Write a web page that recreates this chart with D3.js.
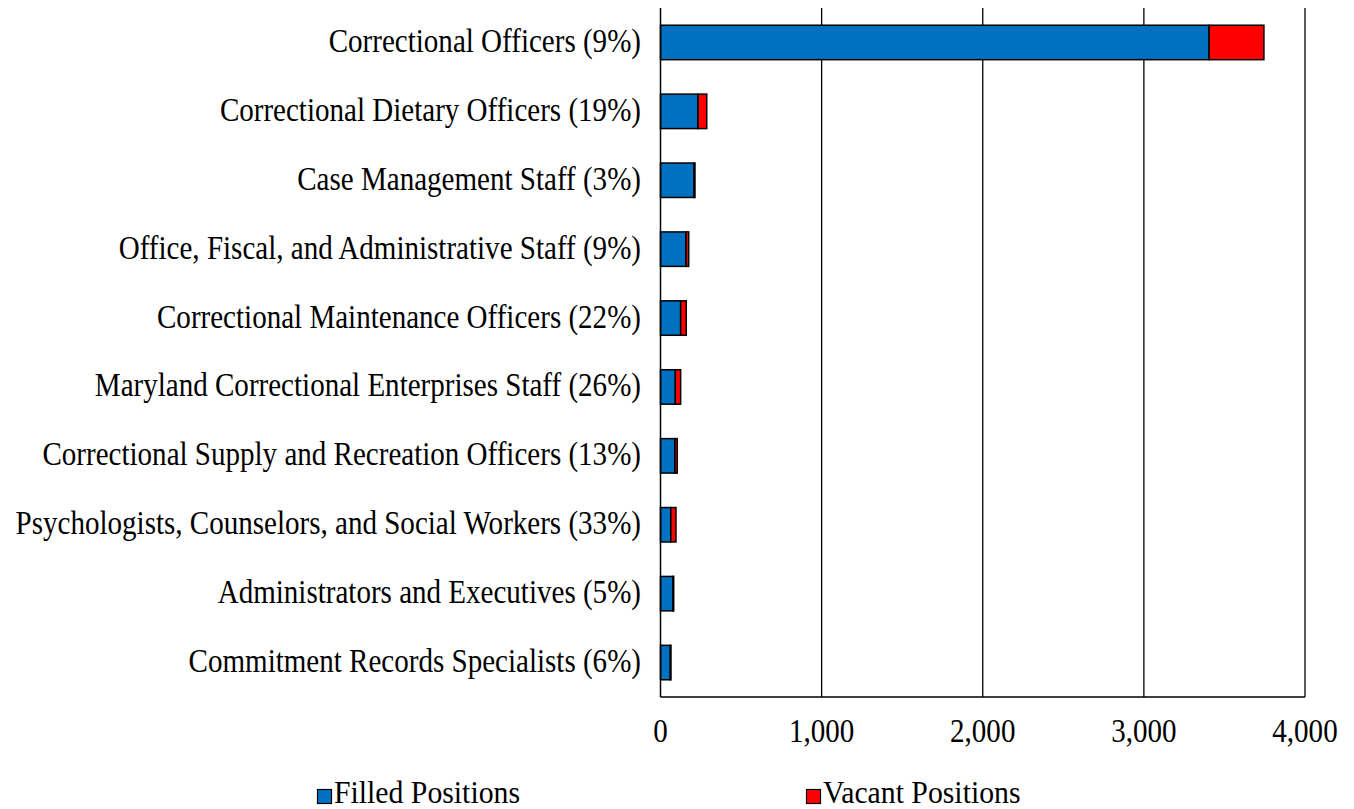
<!DOCTYPE html>
<html><head><meta charset="utf-8">
<script src="https://cdn.jsdelivr.net/npm/d3@7"></script>
<style>body{margin:0;background:#fff}svg{display:block}text{font-family:"Liberation Serif","Times New Roman",serif;fill:#000}</style>
</head><body><svg id="c" width="1354" height="809"></svg>
<script>
const categories = ["Correctional Officers (9%)","Correctional Dietary Officers (19%)","Case Management Staff (3%)","Office, Fiscal, and Administrative Staff (9%)","Correctional Maintenance Officers (22%)","Maryland Correctional Enterprises Staff (26%)","Correctional Supply and Recreation Officers (13%)","Psychologists, Counselors, and Social Workers (33%)","Administrators and Executives (5%)","Commitment Records Specialists (6%)"];
const filled = [3405,233,208,159,125,92,90,64,78,61];
const vacant = [340,54,6,16,35,33,14,32,4,4];
const seriesNames = ["Filled Positions","Vacant Positions"];
const colors = ["#0070C0","#FF0000"];
const xTicks = [0,1000,2000,3000,4000];

const svg = d3.select("#c");
const pL = 660.5, pR = 1305, pT = 8, pB = 697;
const FS = 33, SX = 0.88;
const x = d3.scaleLinear().domain([0,4000]).range([pL,pR]);
const y = d3.scaleBand().domain(categories).range([pT,pB]).paddingInner(0.5).paddingOuter(0.25);

// gridlines
svg.append("g").selectAll("line").data(xTicks.slice(1)).join("line")
  .attr("x1",d=>x(d)).attr("x2",d=>x(d)).attr("y1",pT).attr("y2",pB)
  .attr("stroke","#000").attr("stroke-width",1.3);

// bars
const data = categories.map((c,i)=>({c,f:filled[i],v:vacant[i]}));
const g = svg.append("g");
g.selectAll("rect.f").data(data).join("rect").attr("class","f")
  .attr("x",x(0)).attr("y",d=>y(d.c)).attr("width",d=>x(d.f)-x(0)).attr("height",y.bandwidth())
  .attr("fill",colors[0]).attr("stroke","#000").attr("stroke-width",1.5);
g.selectAll("rect.v").data(data).join("rect").attr("class","v")
  .attr("x",d=>x(d.f)).attr("y",d=>y(d.c)).attr("width",d=>x(d.f+d.v)-x(d.f)).attr("height",y.bandwidth())
  .attr("fill",colors[1]).attr("stroke","#000").attr("stroke-width",1.5);

// axes lines
svg.append("line").attr("x1",pL).attr("x2",pL).attr("y1",pT).attr("y2",pB).attr("stroke","#000").attr("stroke-width",1.5);
svg.append("line").attr("x1",pL).attr("x2",pR).attr("y1",pB).attr("y2",pB).attr("stroke","#000").attr("stroke-width",1.5);

// x tick labels
const fmt = d3.format(",");
svg.append("g").selectAll("text").data(xTicks).join("text")
  .attr("transform",d=>`translate(${x(d)},742) scale(${SX},1)`).attr("text-anchor","middle")
  .attr("font-size",FS).text(d=>fmt(d));

// category labels
svg.append("g").selectAll("text").data(categories).join("text")
  .attr("transform",d=>`translate(641,${y(d)+y.bandwidth()/2+9.5}) scale(${SX},1)`).attr("text-anchor","end")
  .attr("font-size",FS).text(d=>d);

// legend
const leg = [317,806];
seriesNames.forEach((n,i)=>{
  const lg = svg.append("g");
  lg.append("rect").attr("x",leg[i]+0.5).attr("y",789.5).attr("width",14).attr("height",14)
    .attr("fill",colors[i]).attr("stroke","#000").attr("stroke-width",1.2);
  lg.append("text").attr("transform",`translate(${leg[i]+17},802.5) scale(0.96,1)`)
    .attr("font-size",31).text(n);
});
</script></body></html>
